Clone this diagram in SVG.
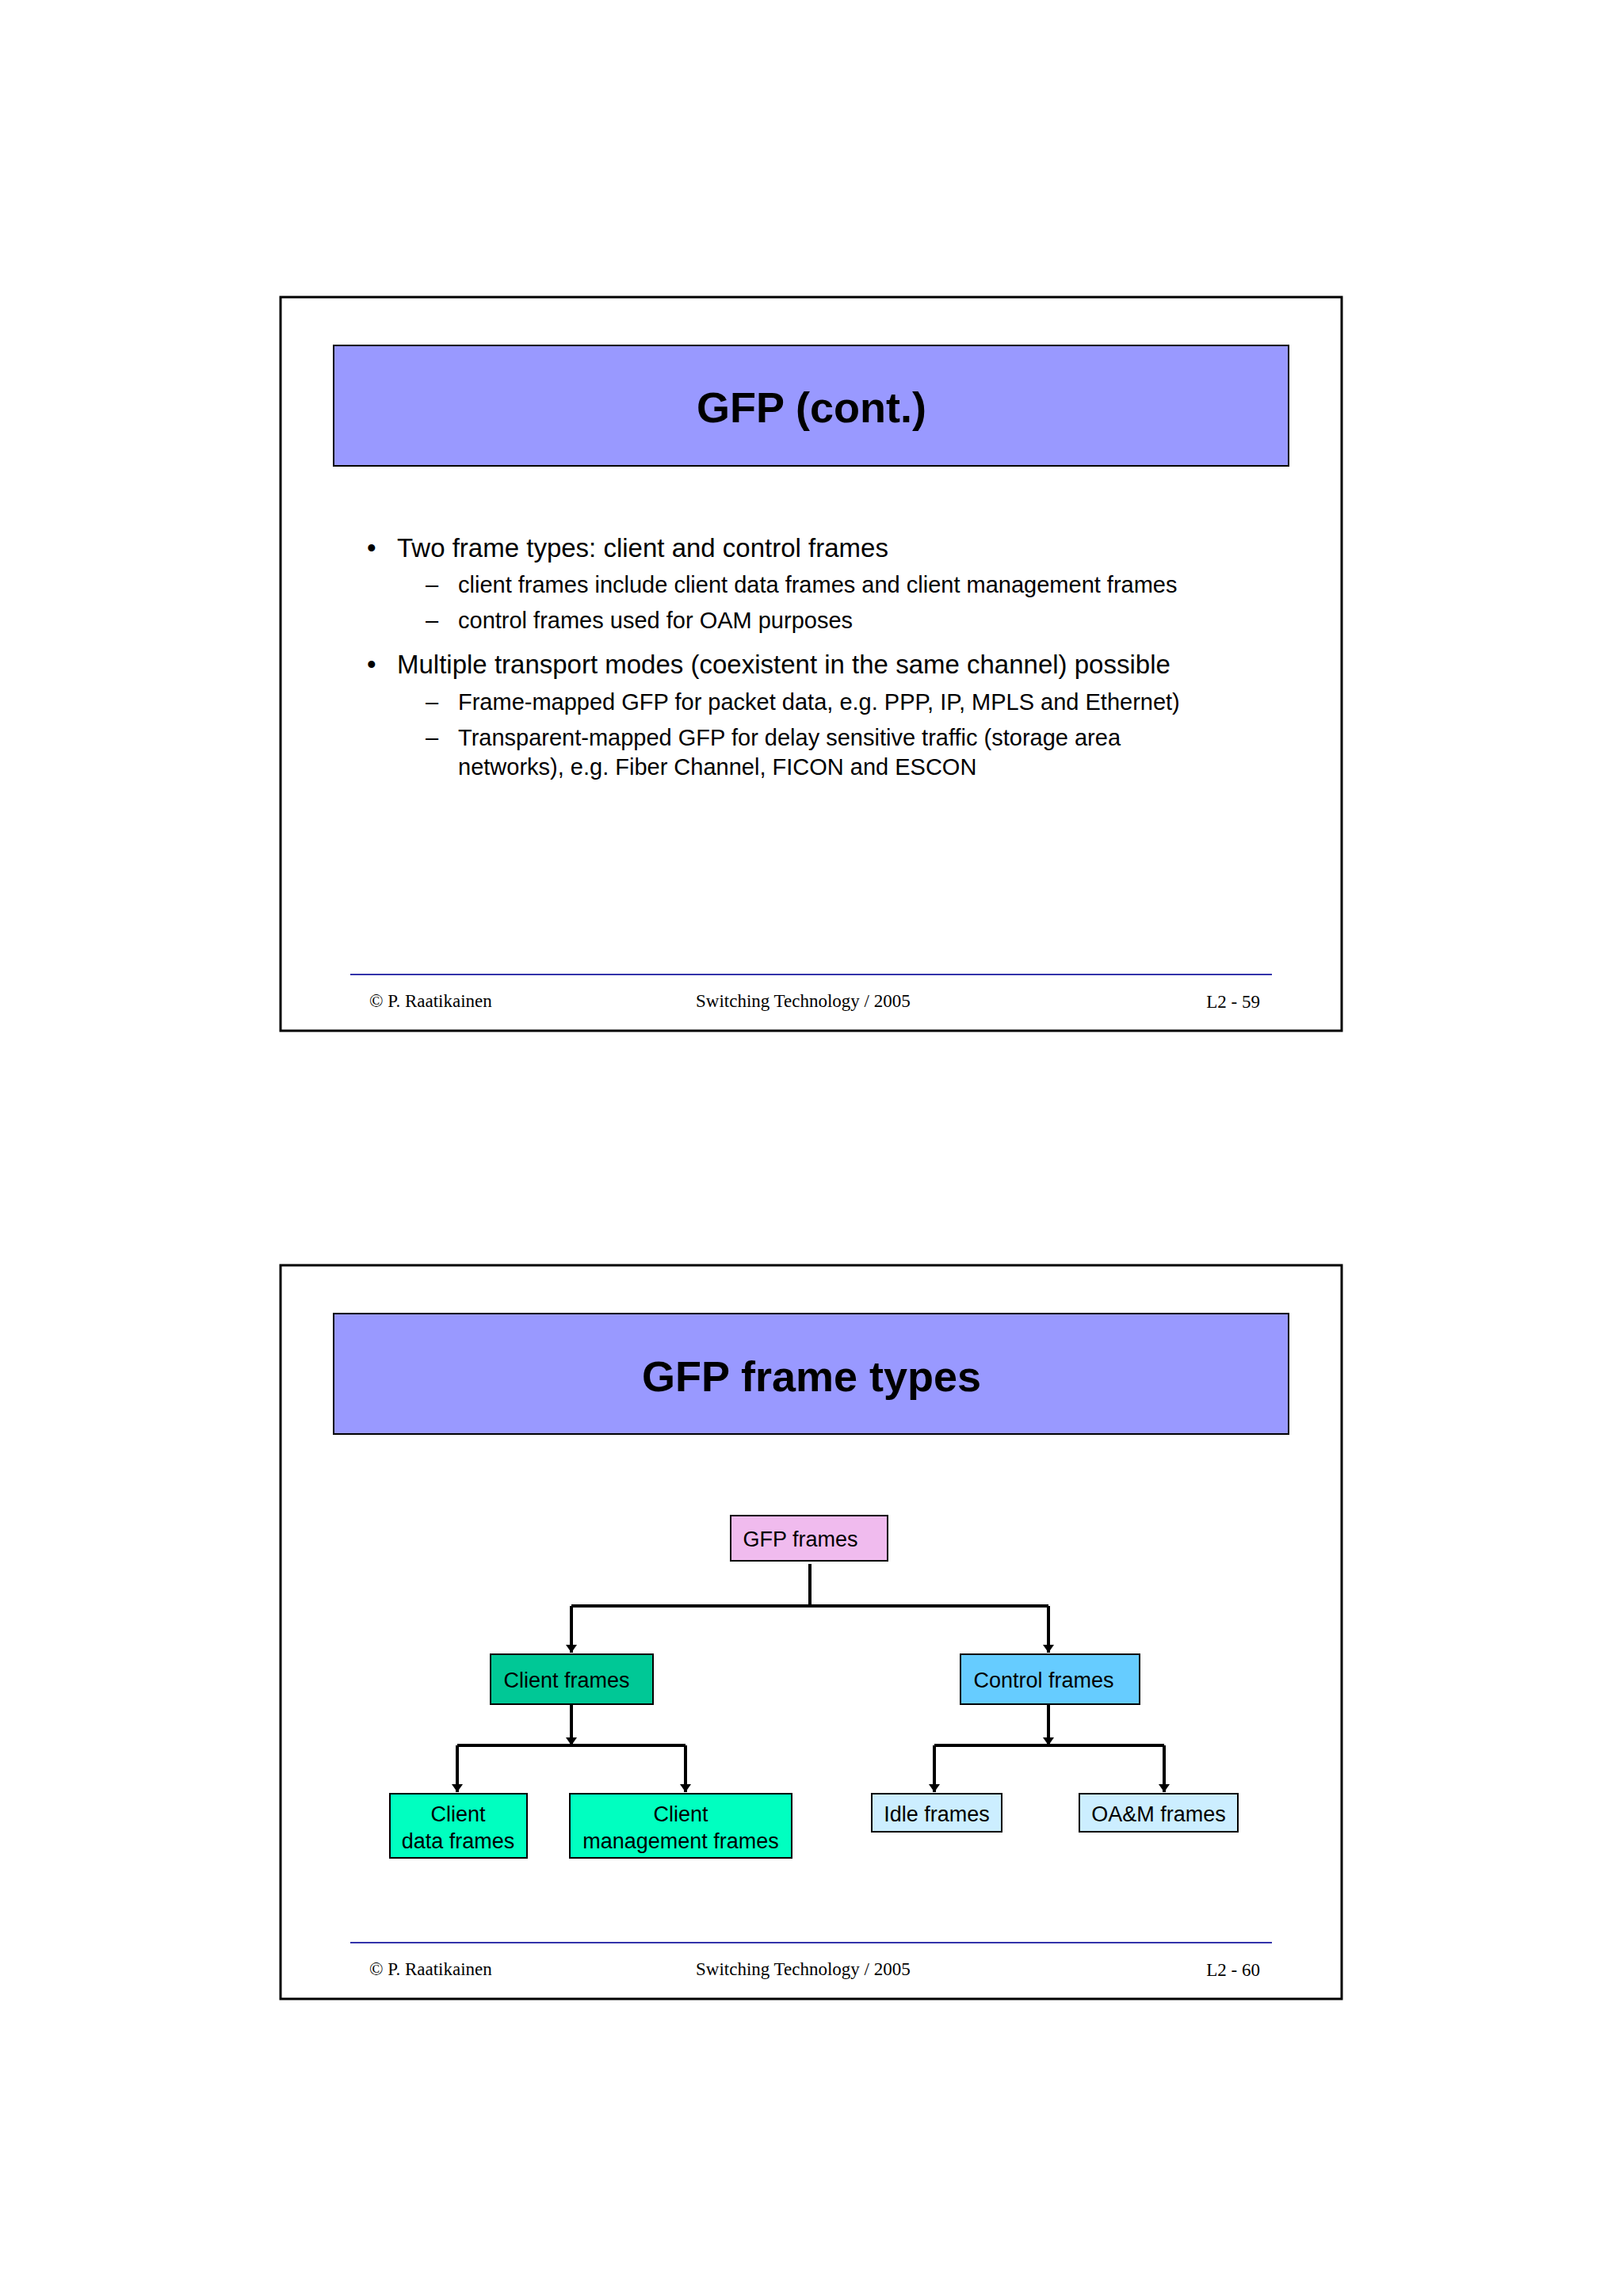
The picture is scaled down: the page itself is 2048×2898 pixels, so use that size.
<svg xmlns="http://www.w3.org/2000/svg" width="2048" height="2898" viewBox="0 0 2048 2898">
<style>
.frame{fill:#fff;stroke:#000;stroke-width:3}
.tbox{fill:#9999FF;stroke:#000;stroke-width:2}
.title{font-family:"Liberation Sans",Arial,sans-serif;font-weight:bold;font-size:54px;text-anchor:middle}
.b1{font-family:"Liberation Sans",Arial,sans-serif;font-size:33px}
.b2{font-family:"Liberation Sans",Arial,sans-serif;font-size:29px}
.ft{font-family:"Liberation Serif","Times New Roman",serif;font-size:23px}
.fl{stroke:#3333AA;stroke-width:2}
.n{stroke:#000;stroke-width:2}
.nt{font-family:"Liberation Sans",Arial,sans-serif;font-size:27px;text-anchor:middle}
.c{stroke:#000;stroke-width:4;fill:none}
</style>
<defs>
<marker id="ah" viewBox="0 0 10 20" refX="10" refY="10" markerWidth="10" markerHeight="20" markerUnits="userSpaceOnUse" orient="auto">
<path d="M0,3 L10,10 L0,17 Z" fill="#000"/>
</marker>
</defs>
<rect width="2048" height="2898" fill="#fff"/>
<g id="slide1">
<rect class="frame" x="354" y="375" width="1339" height="926"/>
<rect class="tbox" x="421" y="436" width="1205" height="152"/>
<text class="title" x="1024" y="533">GFP (cont.)</text>
<text class="b1" x="463" y="703">•</text>
<text class="b1" x="501" y="703">Two frame types: client and control frames</text>
<text class="b2" x="537" y="748">–</text>
<text class="b2" x="578" y="748">client frames include client data frames and client management frames</text>
<text class="b2" x="537" y="793">–</text>
<text class="b2" x="578" y="793">control frames used for OAM purposes</text>
<text class="b1" x="463" y="850">•</text>
<text class="b1" x="501" y="850">Multiple transport modes (coexistent in the same channel) possible</text>
<text class="b2" x="537" y="896">–</text>
<text class="b2" x="578" y="896">Frame-mapped GFP for packet data, e.g. PPP, IP, MPLS and Ethernet)</text>
<text class="b2" x="537" y="941">–</text>
<text class="b2" x="578" y="941">Transparent-mapped GFP for delay sensitive traffic (storage area</text>
<text class="b2" x="578" y="978">networks), e.g. Fiber Channel, FICON and ESCON</text>
<line class="fl" x1="442" y1="1230" x2="1605" y2="1230"/>
<text class="ft" x="466" y="1271">©  P. Raatikainen</text>
<text class="ft" x="878" y="1271">Switching Technology  / 2005</text>
<text class="ft" x="1590" y="1272" text-anchor="end">L2 - 59</text>
</g>
<g id="slide2">
<rect class="frame" x="354" y="1597" width="1339" height="926"/>
<rect class="tbox" x="421" y="1658" width="1205" height="152"/>
<text class="title" x="1024" y="1756">GFP frame types</text>
<line class="fl" x1="442" y1="2452" x2="1605" y2="2452"/>
<text class="ft" x="466" y="2493">©  P. Raatikainen</text>
<text class="ft" x="878" y="2493">Switching Technology  / 2005</text>
<text class="ft" x="1590" y="2494" text-anchor="end">L2 - 60</text>
</g>
<g id="connectors">
<path class="c" d="M1022,1974 V2027 M721,2027 H1323"/>
<path class="c" d="M721,2027 V2086" marker-end="url(#ah)"/>
<path class="c" d="M1323,2027 V2086" marker-end="url(#ah)"/>
<path class="c" d="M721,2152 V2203" marker-end="url(#ah)"/>
<path class="c" d="M577,2203 H865"/>
<path class="c" d="M577,2203 V2262" marker-end="url(#ah)"/>
<path class="c" d="M865,2203 V2262" marker-end="url(#ah)"/>
<path class="c" d="M1323,2152 V2203" marker-end="url(#ah)"/>
<path class="c" d="M1179,2203 H1469"/>
<path class="c" d="M1179,2203 V2262" marker-end="url(#ah)"/>
<path class="c" d="M1469,2203 V2262" marker-end="url(#ah)"/>
</g>
<g id="gfp-frames">
<rect class="n" x="922" y="1913" width="198" height="57" fill="#F0BBEE"/>
<text class="nt" x="1010" y="1952">GFP frames</text>
</g>
<g id="client-frames">
<rect class="n" x="619" y="2088" width="205" height="63" fill="#00C896"/>
<text class="nt" x="715" y="2130">Client frames</text>
</g>
<g id="control-frames">
<rect class="n" x="1212" y="2088" width="226" height="63" fill="#66CCFF"/>
<text class="nt" x="1317" y="2130">Control frames</text>
</g>
<g id="client-data-frames">
<rect class="n" x="492" y="2264" width="173" height="81" fill="#00FFC0"/>
<text class="nt" x="578" y="2299">Client</text>
<text class="nt" x="578" y="2333">data frames</text>
</g>
<g id="client-management-frames">
<rect class="n" x="719" y="2264" width="280" height="81" fill="#00FFC0"/>
<text class="nt" x="859" y="2299">Client</text>
<text class="nt" x="859" y="2333">management frames</text>
</g>
<g id="idle-frames">
<rect class="n" x="1100" y="2264" width="164" height="48" fill="#CCEEFF"/>
<text class="nt" x="1182" y="2299">Idle frames</text>
</g>
<g id="oam-frames">
<rect class="n" x="1362" y="2264" width="200" height="48" fill="#CCEEFF"/>
<text class="nt" x="1462" y="2299">OA&amp;M frames</text>
</g>
</svg>
